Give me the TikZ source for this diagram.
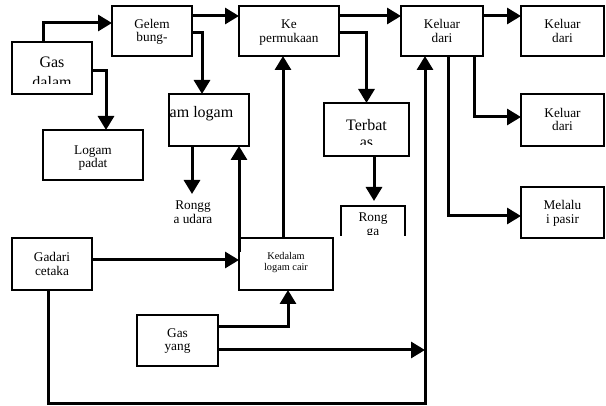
\documentclass[tikz,border=0pt]{standalone}
\usepackage{fontspec}
\setmainfont{Liberation Serif}
\usetikzlibrary{arrows.meta}
\tikzset{
  box/.style={draw, line width=1.3pt, inner sep=0pt, outer sep=0pt},
  boxnd/.style={inner sep=0pt, outer sep=0pt},
  thinln/.style={line width=1.3pt},
  arr/.style={line width=3pt, -{Triangle[length=14pt,width=16pt]}},
  bigtxt/.style={font=\fontsize{16}{19}\selectfont, inner sep=0pt, anchor=base},
  midtxt/.style={font=\fontsize{13.3}{16}\selectfont, inner sep=0pt, anchor=base},
  smalltxt/.style={font=\fontsize{10.3}{12}\selectfont, inner sep=0pt, anchor=base},
}
% two lines of text set on given baselines: name, x, y1, y2, line1, line2, style
\newcommand\boxlines[7]{%
  \node[#7] (#1a) at (#2,#3) {#5};
  \node[#7] (#1b) at (#2,#4) {#6};}
\begin{document}
\begin{tikzpicture}[x=1pt,y=-1pt]
\useasboundingbox (0,0) rectangle (606,406);

% boxes
\node[box, minimum width=80, minimum height=52] (gas) at (52,68) {};
\node[box, minimum width=80, minimum height=50] (gelem) at (152,31) {};
\node[box, minimum width=100, minimum height=50] (ke) at (289,31) {};
\node[box, minimum width=82, minimum height=50] (keluar) at (442,31) {};
\node[box, minimum width=83, minimum height=50] (kd1) at (562.5,31) {};
\node[box, minimum width=83, minimum height=52] (kd2) at (562.5,120) {};
\node[box, minimum width=83, minimum height=51] (melalu) at (562.5,212.5) {};
\node[box, minimum width=100, minimum height=50] (logam) at (93,155) {};
\node[box, minimum width=80, minimum height=52] (amlogam) at (209,120) {};
\node[box, minimum width=85, minimum height=53] (terbatas) at (366.5,129.5) {};
\node[boxnd, minimum width=64, minimum height=30] (rongga) at (373,221) {};
\draw[thinln] (rongga.south west) -- (rongga.north west) -- (rongga.north east) -- (rongga.south east);
\node[box, minimum width=80, minimum height=52] (gadari) at (52,264) {};
\node[box, minimum width=94, minimum height=52] (kedalam) at (286,264) {};
\node[box, minimum width=81, minimum height=51] (gasyang) at (177.5,340.5) {};

% texts
\boxlines{gelemT}{152}{28.5}{42}{Gelem}{bung-}{midtxt}
\boxlines{keT}{289}{29}{43}{Ke}{permukaan}{midtxt}
\boxlines{keluarT}{442}{29}{43}{Keluar}{dari}{midtxt}
\boxlines{kdaT}{562.5}{29}{43}{Keluar}{dari}{midtxt}
\boxlines{kdbT}{562.5}{117.5}{131}{Keluar}{dari}{midtxt}
\boxlines{melaluT}{562.5}{210}{224}{Melalu}{i pasir}{midtxt}
\boxlines{logamT}{93}{154.5}{168}{Logam}{padat}{midtxt}
\boxlines{gadariT}{52}{262}{275.5}{Gadari}{cetaka}{midtxt}
\boxlines{gasyangT}{177.5}{337.5}{351}{Gas}{yang}{midtxt}
\boxlines{kedalamT}{286}{259.5}{270.5}{Kedalam}{logam cair}{smalltxt}
\boxlines{ruT}{193}{210}{223.5}{Rongg}{a udara}{midtxt}

% clipped texts
\begin{scope}
  \clip (12,42) rectangle (92,84);
  \boxlines{gasT}{52}{68}{88}{Gas}{dalam}{bigtxt}
\end{scope}
\begin{scope}
  \clip (169,94) rectangle (249,146);
  \node[bigtxt, anchor=base west] (amT) at (169.5,118) {am logam};
\end{scope}
\begin{scope}
  \clip (324,103) rectangle (409,145);
  \boxlines{terT}{366.5}{131}{148}{Terbat}{as}{bigtxt}
\end{scope}
\begin{scope}
  \clip (341,206) rectangle (405,234.5);
  \boxlines{roT}{373}{222}{236}{Rong}{ga}{midtxt}
\end{scope}

% free ends
\coordinate (ruTip) at (192,194);
\coordinate (roTip) at (374,201);
\coordinate (bot) at (425,404);

% connectors
\draw[arr] ([xshift=-9pt]gas.north) |- ([yshift=8pt]gelem.west);
\draw[arr] ([yshift=-3pt]gas.east) -| ([xshift=13pt]logam.north);
\draw[arr] ([yshift=15pt]gelem.east) -- ([yshift=15pt]ke.west);
\draw[arr] ([yshift=-2pt]gelem.east) -| ([xshift=-7pt]amlogam.north);
\draw[arr] ([xshift=-17pt]amlogam.south) -- (ruTip);
\draw[arr] ([yshift=-14pt]kedalam.north west) -- ([xshift=30pt]amlogam.south);
\draw[arr] ([xshift=-3pt]kedalam.north) -- ([xshift=-3pt]kedalam.north |- ke.south);
\draw[arr] ([yshift=15pt]ke.east) -- ([yshift=15pt]keluar.west);
\draw[arr] ([yshift=-2pt]ke.east) -| (terbatas.north);
\draw[arr] ([xshift=7.5pt]terbatas.south) -- (roTip);
\draw[arr] ([yshift=15pt]keluar.east) -- ([yshift=15pt]kd1.west);
\draw[arr] ([xshift=32pt]keluar.south) |- ([yshift=3pt]kd2.west);
\draw[arr] ([xshift=6pt]keluar.south) |- ([yshift=-3.5pt]melalu.west);
\draw[arr] ([yshift=4pt]gadari.east) -- ([yshift=4pt]kedalam.west);
\draw[arr] ([xshift=-4pt]gadari.south) |- (bot) -- ([xshift=-17pt]keluar.south);
\draw[arr] ([yshift=13.5pt]gasyang.east) -| ([xshift=2pt]kedalam.south);
\draw[arr] ([yshift=-9.5pt]gasyang.east) -- ([yshift=-9.5pt]gasyang.east -| bot);
\end{tikzpicture}
\end{document}
